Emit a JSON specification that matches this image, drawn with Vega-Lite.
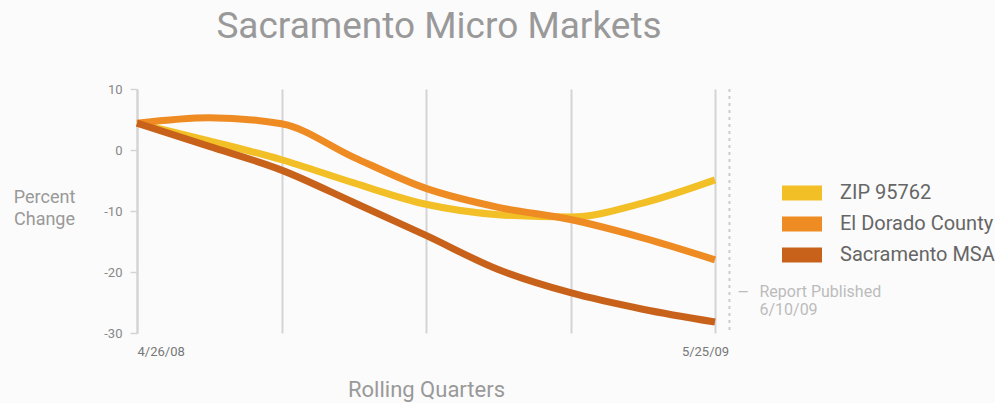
{
  "$schema": "https://vega.github.io/schema/vega-lite/v6.json",
  "width": 578,
  "height": 244,
  "autosize": {"type": "none"},
  "padding": {"left": 137, "top": 89, "right": 280, "bottom": 70},
  "background": "#fbfbfb",
  "title": {"text": "Sacramento Micro Markets", "fontSize": 37, "font": "Roboto", "fontWeight": "normal", "color": "#999999", "anchor": "middle", "frame": "group", "dx": 13, "offset": 8, "baseline": "alphabetic"},
  "config": {"view": {"stroke": null}, "font": "Roboto"},
  "datasets": {
    "series": [
      {"q": 0, "series": "ZIP 95762", "value": 4.4},
      {"q": 0.5, "series": "ZIP 95762", "value": 1.5},
      {"q": 1, "series": "ZIP 95762", "value": -1.6},
      {"q": 1.5, "series": "ZIP 95762", "value": -5.4},
      {"q": 2, "series": "ZIP 95762", "value": -8.9},
      {"q": 2.5, "series": "ZIP 95762", "value": -10.6},
      {"q": 3, "series": "ZIP 95762", "value": -11.0},
      {"q": 3.5, "series": "ZIP 95762", "value": -8.7},
      {"q": 4, "series": "ZIP 95762", "value": -4.9},
      {"q": 0, "series": "El Dorado County", "value": 4.4},
      {"q": 0.5, "series": "El Dorado County", "value": 5.3},
      {"q": 1, "series": "El Dorado County", "value": 4.3},
      {"q": 1.5, "series": "El Dorado County", "value": -1.2},
      {"q": 2, "series": "El Dorado County", "value": -6.3},
      {"q": 2.5, "series": "El Dorado County", "value": -9.4},
      {"q": 3, "series": "El Dorado County", "value": -11.4},
      {"q": 3.5, "series": "El Dorado County", "value": -14.4},
      {"q": 4, "series": "El Dorado County", "value": -18.0},
      {"q": 0, "series": "Sacramento MSA", "value": 4.4},
      {"q": 0.5, "series": "Sacramento MSA", "value": 0.6},
      {"q": 1, "series": "Sacramento MSA", "value": -3.3},
      {"q": 1.5, "series": "Sacramento MSA", "value": -8.6},
      {"q": 2, "series": "Sacramento MSA", "value": -14.0},
      {"q": 2.5, "series": "Sacramento MSA", "value": -19.6},
      {"q": 3, "series": "Sacramento MSA", "value": -23.4},
      {"q": 3.5, "series": "Sacramento MSA", "value": -26.1},
      {"q": 4, "series": "Sacramento MSA", "value": -28.2}
    ],
    "report": [
      {"q": 4.1, "label": "Report Published", "date": "6/10/09"}
    ]
  },
  "layer": [
    {
      "data": {"name": "series"},
      "mark": {"type": "line", "interpolate": "monotone", "strokeWidth": 7, "clip": false},
      "encoding": {
        "x": {
          "field": "q", "type": "quantitative",
          "scale": {"domain": [0, 4], "nice": false, "zero": false},
          "axis": {
            "values": [0, 1, 2, 3, 4],
            "labelExpr": "datum.value == 0 ? '4/26/08' : datum.value == 4 ? '5/25/09' : ''",
            "grid": true, "gridColor": "#d4d4d4", "gridWidth": 2,
            "ticks": false, "domain": false,
            "labelFontSize": 13, "labelColor": "#777777", "labelPadding": 12, "labelFlush": false,
            "labelAlign": {"condition": {"test": "datum.value == 0", "value": "left"}, "value": "center"},
            "labelOffset": {"condition": {"test": "datum.value == 4", "value": -10}, "value": 0},
            "title": "Rolling Quarters", "titleFontSize": 22, "titleColor": "#999999", "titleFontWeight": "normal", "titlePadding": 21
          }
        },
        "y": {
          "field": "value", "type": "quantitative",
          "scale": {"domain": [-30, 10], "nice": false, "zero": false},
          "axis": {
            "values": [-30, -20, -10, 0, 10],
            "labelExpr": "'' + datum.value",
            "grid": false, "domainColor": "#d4d4d4", "domainWidth": 2,
            "tickColor": "#d4d4d4", "tickWidth": 1.5, "tickSize": 7,
            "labelFontSize": 13, "labelColor": "#888888", "labelPadding": 8,
            "title": ["Percent", "Change"], "titleAngle": 0, "titleX": -93, "titleY": 108,
            "titleAlign": "center", "titleBaseline": "middle", "titleFontSize": 18,
            "titleColor": "#999999", "titleFontWeight": "normal", "titleLineHeight": 22
          }
        },
        "color": {
          "field": "series", "type": "nominal",
          "scale": {"domain": ["ZIP 95762", "El Dorado County", "Sacramento MSA"], "range": ["#F3BF26", "#EE8B22", "#C8621B"]},
          "legend": {
            "title": null, "orient": "none", "legendX": 655, "legendY": 94,
            "symbolType": "M-2,-0.75H2V0.75H-2Z", "symbolSize": 400, "symbolStrokeWidth": 0,
            "labelFontSize": 20, "labelColor": "#666666", "labelFont": "Roboto", "labelLimit": 400,
            "rowPadding": 11, "labelOffset": 28, "symbolOpacity": 1,
            "encode": {"symbols": {"update": {"fill": {"scale": "color", "field": "value"}, "stroke": {"value": "transparent"}, "strokeWidth": {"value": 0}, "opacity": {"value": 1}}}}
          }
        },
        "order": {"field": "q", "type": "quantitative"}
      }
    },
    {
      "data": {"name": "report"},
      "mark": {"type": "rule", "strokeDash": [3, 4], "color": "#cccccc", "strokeWidth": 2, "clip": false},
      "encoding": {
        "x": {"field": "q", "type": "quantitative"},
        "y": {"datum": 10, "type": "quantitative"},
        "y2": {"datum": -30}
      }
    },
    {
      "data": {"name": "report"},
      "mark": {"type": "text", "align": "left", "baseline": "alphabetic", "dx": 8, "fontSize": 14, "color": "#bbbbbb", "text": "—"},
      "encoding": {
        "x": {"field": "q", "type": "quantitative"},
        "y": {"datum": -24.1, "type": "quantitative"}
      }
    },
    {
      "data": {"name": "report"},
      "mark": {"type": "text", "align": "left", "baseline": "alphabetic", "dx": 30, "fontSize": 16, "color": "#bbbbbb"},
      "encoding": {
        "x": {"field": "q", "type": "quantitative"},
        "y": {"datum": -24.1, "type": "quantitative"},
        "text": {"field": "label"}
      }
    },
    {
      "data": {"name": "report"},
      "mark": {"type": "text", "align": "left", "baseline": "alphabetic", "dx": 30, "fontSize": 16, "color": "#bbbbbb"},
      "encoding": {
        "x": {"field": "q", "type": "quantitative"},
        "y": {"datum": -27.1, "type": "quantitative"},
        "text": {"field": "date"}
      }
    }
  ]
}
